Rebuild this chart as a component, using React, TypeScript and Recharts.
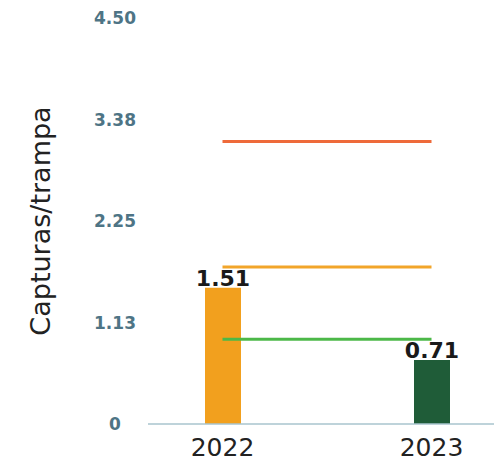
import { BarChart, Bar, XAxis, YAxis, Cell, LabelList, ReferenceLine } from 'recharts';

const years = ['2022', '2023'];
const captures = [1.51, 0.71];
const barColors = ['#F2A01E', '#1F5C38'];

const yTicks = [0, 1.125, 2.25, 3.375, 4.5];
const yTickLabels = ['0', '1.13', '2.25', '3.38', '4.50'];

// horizontal threshold lines, drawn from the first to the last year
const thresholds = [3.13, 1.74, 0.94];
const thresholdColors = ['#EE6A3A', '#F2A52A', '#4CB848'];

const data = years.map((year, i) => ({ year, value: captures[i] }));

const YTick = ({ x, y, payload }: any) => {
    const idx = yTicks.indexOf(payload.value);
    return (
        <text
            x={x - 33}
            y={y}
            textAnchor="middle"
            dominantBaseline="central"
            fill="#4E7485"
            fontSize={17}
            fontWeight="bold"
            fontFamily="DejaVu Sans"
        >
            {idx >= 0 ? yTickLabels[idx] : payload.value}
        </text>
    );
};

const YLabel = ({ viewBox }: any) => {
    const cx = viewBox.x + 42;
    const cy = viewBox.y + viewBox.height / 2;
    return (
        <text
            x={cx}
            y={cy}
            transform={`rotate(-90, ${cx}, ${cy})`}
            textAnchor="middle"
            fill="#222"
            fontSize={27}
            fontFamily="DejaVu Sans"
        >
            Capturas/trampa
        </text>
    );
};

export default function App() {
    return (
        <BarChart
            width={494}
            height={455}
            data={data}
            margin={{ top: 10, right: 0, bottom: 0, left: 0 }}
            barSize={36}
        >
            <XAxis
                dataKey="year"
                height={39}
                padding={{ left: -30, right: -34 }}
                tickLine={false}
                tickSize={0}
                tickMargin={14}
                axisLine={{ stroke: '#A9C4CE', strokeWidth: 1.5 }}
                tick={{ fill: '#222', fontSize: 25, fontFamily: 'DejaVu Sans' }}
            />
            <YAxis
                width={140}
                domain={[0, 4.5]}
                ticks={yTicks}
                interval={0}
                axisLine={false}
                tickLine={false}
                tickSize={0}
                tickMargin={0}
                tick={<YTick />}
                label={<YLabel />}
            />
            <Bar dataKey="value" isAnimationActive={false}>
                {data.map((d, i) => (
                    <Cell key={d.year} fill={barColors[i]} />
                ))}
                <LabelList
                    dataKey="value"
                    position="top"
                    offset={2}
                    fill="#1a1a1a"
                    fontSize={22}
                    fontWeight="bold"
                    fontFamily="DejaVu Sans"
                    formatter={(v: any) => Number(v).toFixed(2)}
                />
            </Bar>
            {thresholds.map((t, i) => (
                <ReferenceLine
                    key={i}
                    segment={[
                        { x: years[0], y: t },
                        { x: years[years.length - 1], y: t },
                    ]}
                    stroke={thresholdColors[i]}
                    strokeWidth={3}
                />
            ))}
        </BarChart>
    );
}
